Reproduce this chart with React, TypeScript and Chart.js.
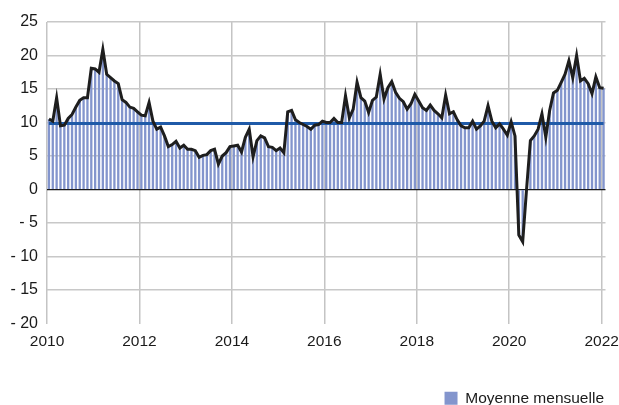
import React, { useEffect, useRef } from 'react';
import { Chart, registerables } from 'chart.js';

Chart.register(...registerables);

const START_YEAR = 2010;
const values2010 = [10.5, 10.2, 13.7, 9.5, 9.6, 10.6, 11.2, 12.3, 13.3, 13.7, 13.7, 18.1];
const values2011 = [18.0, 17.5, 20.9, 17.2, 16.7, 16.2, 15.8, 13.4, 13.0, 12.3, 12.1, 11.6];
const values2012 = [11.1, 11.0, 13.0, 10.2, 9.0, 9.3, 8.0, 6.4, 6.7, 7.2, 6.2, 6.6];
const values2013 = [6.0, 6.0, 5.8, 4.8, 5.1, 5.2, 5.8, 6.0, 3.8, 5.0, 5.5, 6.4];
const values2014 = [6.5, 6.6, 5.6, 7.8, 9.0, 4.9, 7.3, 8.0, 7.7, 6.4, 6.3, 5.8];
const values2015 = [6.2, 5.5, 11.6, 11.8, 10.4, 10.0, 9.7, 9.4, 9.0, 9.6, 9.7, 10.2];
const values2016 = [10.0, 10.0, 10.6, 10.0, 10.0, 14.0, 10.7, 12.0, 16.0, 13.7, 13.2, 11.5];
const values2017 = [13.3, 13.8, 17.2, 13.5, 15.2, 16.1, 14.5, 13.6, 13.1, 12.0, 12.8, 14.2];
const values2018 = [13.2, 12.2, 11.8, 12.6, 11.8, 11.3, 10.7, 14.1, 11.3, 11.6, 10.4, 9.5];
const values2019 = [9.2, 9.2, 10.2, 9.0, 9.5, 10.2, 12.5, 10.2, 9.2, 9.8, 9.0, 8.1];
const values2020 = [10.1, 8.0, -6.8, -7.8, 0.0, 7.3, 8.0, 9.0, 11.3, 7.8, 11.8, 14.4];
const values2021 = [14.8, 16.0, 17.2, 19.2, 16.7, 20.0, 16.2, 16.6, 15.8, 14.3, 16.8, 15.2];
const values2022 = [15.1];

const monthly: number[] = [
  ...values2010, ...values2011, ...values2012, ...values2013, ...values2014,
  ...values2015, ...values2016, ...values2017, ...values2018, ...values2019,
  ...values2020, ...values2021, ...values2022,
];
const meanValue = 9.85;
const monthLabels: string[] = monthly.map(
  (_, i) => `${START_YEAR + Math.floor(i / 12)}-${String((i % 12) + 1).padStart(2, '0')}`
);
const yMin = -20;
const yMax = 25;
const yStep = 5;
const legendLabel = 'Moyenne mensuelle';

const FONT = "'Liberation Sans', Arial, sans-serif";

export default function App() {
  const ref = useRef<HTMLCanvasElement | null>(null);

  useEffect(() => {
    if (!ref.current) return;
    const shiftLegend = {
      id: 'shiftLegend',
      afterLayout(chart: any) {
        const lg = chart.legend;
        if (lg) {
          lg.right -= 13;
          lg.top += 11;
          lg.bottom += 11;
        }
      },
    };
    const chart = new Chart(ref.current, {
      type: 'bar',
      data: {
        labels: monthLabels,
        datasets: [
          {
            type: 'line',
            label: 'Série',
            data: monthly,
            borderColor: '#1e1e1e',
            borderWidth: 3,
            pointRadius: 0,
            tension: 0,
            order: 0,
          } as any,
          {
            type: 'line',
            label: 'Moyenne',
            data: monthly.map(() => meanValue),
            borderColor: '#1f5aa8',
            borderWidth: 3,
            pointRadius: 0,
            order: 1,
          } as any,
          {
            type: 'bar',
            label: legendLabel,
            data: monthly,
            backgroundColor: '#8395cd',
            borderWidth: 0,
            barPercentage: 0.6,
            categoryPercentage: 1,
            order: 2,
          } as any,
        ],
      },
      options: {
        animation: false,
        responsive: true,
        maintainAspectRatio: false,
        layout: { padding: { top: 22, left: 0, right: 0, bottom: 0 } },
        plugins: {
          tooltip: { enabled: false },
          legend: {
            position: 'bottom',
            align: 'end',
            labels: {
              filter: (item: any) => item.text === legendLabel,
              boxWidth: 13,
              boxHeight: 13,
              padding: 2,
              color: '#1a1a1a',
              font: { family: FONT, size: 15.5 },
            },
          },
        },
        scales: {
          x: {
            ticks: {
              autoSkip: false,
              maxRotation: 0,
              minRotation: 0,
              padding: 9,
              labelOffset: -1.9,
              color: '#1a1a1a',
              font: { family: FONT, size: 15.5 },
              callback: (_v: any, index: number) =>
                index % 24 === 0 ? monthLabels[index].slice(0, 4) : '',
            },
            grid: {
              drawTicks: false,
              lineWidth: 1.5,
              color: (ctx: any) => (ctx.index % 24 === 0 ? '#c4c4c4' : 'rgba(0,0,0,0)'),
            },
            border: { display: false },
            afterFit: (scale: any) => {
              scale.height = 54;
              scale.paddingRight = 13.5;
              scale.paddingLeft = 0;
            },
          },
          y: {
            min: yMin,
            max: yMax,
            ticks: {
              stepSize: yStep,
              padding: 9,
              color: '#1a1a1a',
              font: { family: FONT, size: 16 },
              callback: (v: any) => (Number(v) < 0 ? `- ${Math.abs(Number(v))}` : `${v}`),
            },
            grid: {
              drawTicks: false,
              lineWidth: (ctx: any) => (ctx.tick && ctx.tick.value === 0 ? 1.2 : 1.5),
              color: (ctx: any) => {
                const v = ctx.tick ? ctx.tick.value : null;
                if (v === 0) return '#1a1a1a';
                if (v === yMin) return 'rgba(0,0,0,0)';
                return '#c8c8c8';
              },
            },
            border: { display: false },
            afterFit: (scale: any) => {
              scale.width = 47;
            },
          },
        },
      },
      plugins: [shiftLegend],
    });
    return () => chart.destroy();
  }, []);

  return (
    <div style={{ position: 'fixed', left: 0, top: 0, width: 619, height: 405, background: '#fff' }}>
      <canvas ref={ref} />
    </div>
  );
}
